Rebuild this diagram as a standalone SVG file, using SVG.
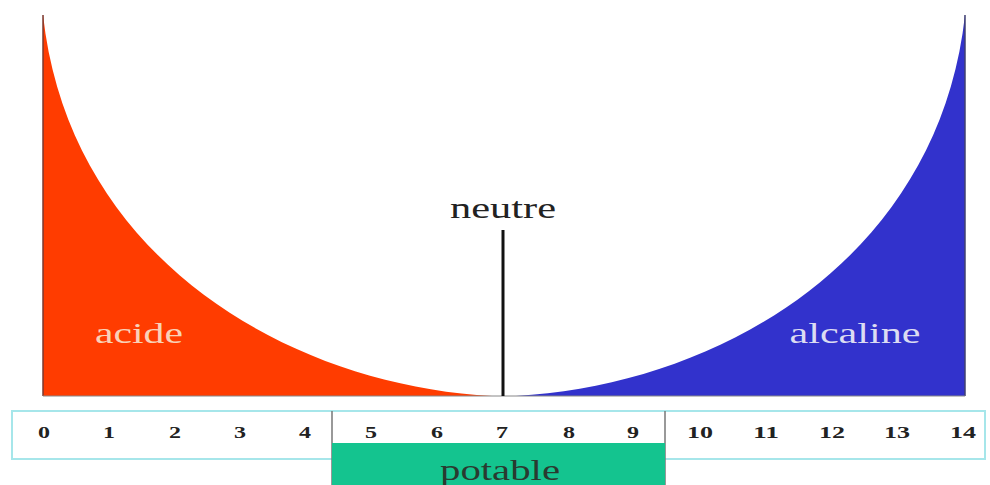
<svg xmlns="http://www.w3.org/2000/svg" width="990" height="485" viewBox="0 0 990 485">
<style>
.num{font-family:"Liberation Serif",serif;font-weight:bold;font-size:17px;fill:#222;text-anchor:middle}
.lbl{font-family:"Liberation Serif",serif;font-size:29px;text-anchor:middle}
</style>
<rect width="990" height="485" fill="#ffffff"/>
<g id="acide">
<path d="M43,15 C70,260 290,385 492,396 L43,396 Z" fill="#ff3c00"/>
<line x1="43" y1="15" x2="43" y2="396" stroke="#7a3a30" stroke-width="1.5"/>
<text class="lbl" x="139" y="343" fill="#f9d2b8" textLength="88" lengthAdjust="spacingAndGlyphs">acide</text>
</g>
<g id="alcaline">
<path d="M965,15 C938,260 718,385 516,396 L965,396 Z" fill="#3232cc"/>
<line x1="965" y1="15" x2="965" y2="396" stroke="#404070" stroke-width="1.5"/>
<text class="lbl" x="855" y="343" fill="#dcdcf2" textLength="131" lengthAdjust="spacingAndGlyphs">alcaline</text>
</g>
<line x1="43" y1="396" x2="965" y2="396" stroke="#888" stroke-width="1"/>
<g id="neutre">
<line x1="503" y1="230" x2="503" y2="396" stroke="#111" stroke-width="3"/>
<text class="lbl" x="503" y="218" fill="#222" textLength="106" lengthAdjust="spacingAndGlyphs">neutre</text>
</g>
<g id="scale">
<rect x="12" y="411" width="973" height="48" fill="none" stroke="#a6e6ea" stroke-width="2"/>
<line x1="332" y1="411" x2="332" y2="485" stroke="#777" stroke-width="1.5"/>
<line x1="665" y1="411" x2="665" y2="485" stroke="#777" stroke-width="1.5"/>
<text class="num" x="44" y="438" textLength="12" lengthAdjust="spacingAndGlyphs">0</text>
<text class="num" x="109" y="438" textLength="12" lengthAdjust="spacingAndGlyphs">1</text>
<text class="num" x="175" y="438" textLength="12" lengthAdjust="spacingAndGlyphs">2</text>
<text class="num" x="240" y="438" textLength="12" lengthAdjust="spacingAndGlyphs">3</text>
<text class="num" x="305" y="438" textLength="12" lengthAdjust="spacingAndGlyphs">4</text>
<text class="num" x="371" y="438" textLength="12" lengthAdjust="spacingAndGlyphs">5</text>
<text class="num" x="437" y="438" textLength="12" lengthAdjust="spacingAndGlyphs">6</text>
<text class="num" x="502" y="438" textLength="12" lengthAdjust="spacingAndGlyphs">7</text>
<text class="num" x="569" y="438" textLength="12" lengthAdjust="spacingAndGlyphs">8</text>
<text class="num" x="633" y="438" textLength="12" lengthAdjust="spacingAndGlyphs">9</text>
<text class="num" x="700" y="438" textLength="26" lengthAdjust="spacingAndGlyphs">10</text>
<text class="num" x="766" y="438" textLength="26" lengthAdjust="spacingAndGlyphs">11</text>
<text class="num" x="832" y="438" textLength="26" lengthAdjust="spacingAndGlyphs">12</text>
<text class="num" x="897" y="438" textLength="26" lengthAdjust="spacingAndGlyphs">13</text>
<text class="num" x="963" y="438" textLength="26" lengthAdjust="spacingAndGlyphs">14</text>
</g>
<g id="potable">
<rect x="332" y="443" width="333" height="45" fill="#14c48f"/>
<text class="lbl" x="500" y="480" fill="#2a3a30" textLength="120" lengthAdjust="spacingAndGlyphs">potable</text>
</g>
</svg>
